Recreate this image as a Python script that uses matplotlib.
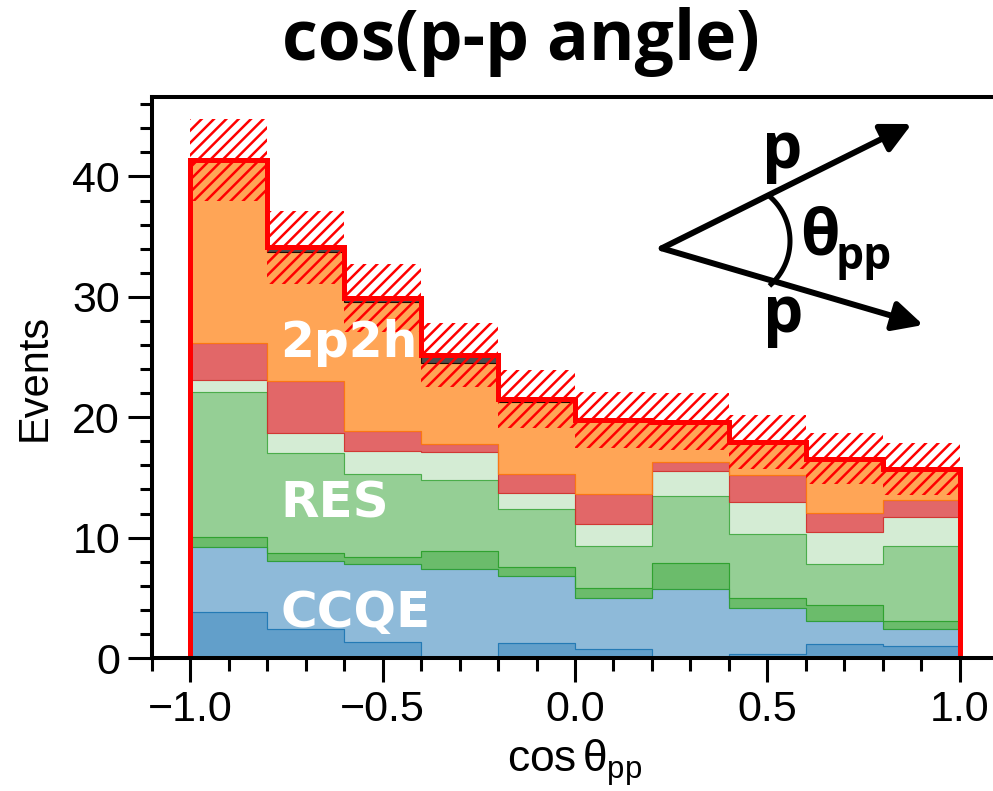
import numpy as np
import matplotlib
matplotlib.use("Agg")
import matplotlib.pyplot as plt
from matplotlib.ticker import MultipleLocator

DPI = 74
K = 100.0 / DPI  # point sizes below are chosen for a 100-dpi layout

plt.rcParams["font.family"] = ["Liberation Sans", "DejaVu Sans"]
plt.rcParams["mathtext.fontset"] = "custom"
plt.rcParams["mathtext.rm"] = "Liberation Sans"
plt.rcParams["mathtext.it"] = "Liberation Sans"
plt.rcParams["hatch.linewidth"] = 1.8 * K

# Binning in cos(theta_pp)
bin_edges = np.linspace(-1.0, 1.0, 11)

# Stacked components, bottom to top (events per bin)
ccqe_low = [3.85, 2.44, 1.33, 0.10, 1.27, 0.75, 0.00, 0.33, 1.14, 1.00]
ccqe = [5.40, 5.62, 6.45, 7.32, 5.54, 4.21, 5.76, 3.85, 1.93, 1.44]
res_low = [0.80, 0.63, 0.58, 1.47, 0.75, 0.85, 2.13, 0.78, 1.30, 0.63]
res = [12.02, 8.31, 6.89, 5.89, 4.82, 3.46, 5.56, 5.34, 3.44, 6.23]
res_high = [1.03, 1.72, 1.94, 2.30, 1.35, 1.89, 2.11, 2.68, 2.68, 2.44]
dis = [3.03, 4.28, 1.66, 0.69, 1.55, 2.49, 0.69, 2.22, 1.53, 1.36]
mec_2p2h = [15.27, 10.75, 10.75, 6.70, 6.01, 6.12, 3.38, 2.77, 4.54, 2.63]
other = [0.00, 0.35, 0.27, 0.70, 0.22, 0.00, 0.00, 0.00, 0.00, 0.00]

# Uncertainty on the total prediction
total_err = [3.40, 3.05, 2.83, 2.63, 2.40, 2.34, 2.35, 2.24, 2.12, 2.15]

components = [ccqe_low, ccqe, res_low, res, res_high, dis, mec_2p2h, other]
base_colors = ["tab:blue", "tab:blue", "tab:green", "tab:green", "tab:green",
               "tab:red", "tab:orange", "black"]
alphas = [0.7, 0.5, 0.7, 0.5, 0.2, 0.7, 0.7, 0.7]

W, H = 994, 791
fig = plt.figure(figsize=(W / DPI, H / DPI), dpi=DPI)
ax_left, ax_right, ax_top, ax_bottom = 152, 998, 97, 658
ax = fig.add_axes([ax_left / W, 1 - ax_bottom / H,
                   (ax_right - ax_left) / W, (ax_bottom - ax_top) / H])

bottom = np.zeros(len(bin_edges) - 1)
for vals, c, a in zip(components, base_colors, alphas):
    top = bottom + np.asarray(vals)
    ax.stairs(top, bin_edges, baseline=bottom, fill=True,
              facecolor=matplotlib.colors.to_rgba(c, a),
              edgecolor=matplotlib.colors.to_rgba(c, min(1.0, a + 0.15)),
              linewidth=0.8 * K)
    bottom = top
total = bottom
err = np.asarray(total_err)

# Hatched uncertainty band
for i in range(len(total)):
    ax.fill_between(bin_edges[i:i + 2], total[i] - err[i], total[i] + err[i],
                    facecolor="none", edgecolor="red", hatch="//",
                    linewidth=0)

# Total prediction outline
ax.stairs(total, bin_edges, baseline=0, color="red", linewidth=3.6 * K)

# Inline component labels
lab_kw = dict(color="white", fontweight="bold",
              family=["DejaVu Sans"], ha="left", va="baseline")
ax.text(-0.768, 25.0, "2p2h", fontsize=35 * K, **lab_kw)
ax.text(-0.765, 11.7, "RES", fontsize=36 * K, **lab_kw)
ax.text(-0.765, 2.6, "CCQE", fontsize=36 * K, **lab_kw)

ax.set_xlim(-1.1, 1.1)
ax.set_ylim(0, 46.6)
ax.xaxis.set_major_locator(MultipleLocator(0.5))
ax.xaxis.set_minor_locator(MultipleLocator(0.1))
ax.yaxis.set_major_locator(MultipleLocator(10))
ax.yaxis.set_minor_locator(MultipleLocator(2))
ax.tick_params(which="major", direction="out", length=17 * K, width=2.2 * K,
               labelsize=31 * K, pad=6 * K)
ax.tick_params(which="minor", direction="out", length=9 * K, width=2.2 * K)
for s in ax.spines.values():
    s.set_linewidth(2.9 * K)

ax.set_xlabel(r"$\mathrm{cos}\,\theta_{\mathrm{pp}}$", fontsize=32 * K,
              labelpad=5 * K)
ax.set_ylabel("Events", fontsize=30 * K, labelpad=13 * K)

fig.text(521 / W, 1 - 42 / H, "cos(p-p angle)", ha="center", va="center",
         fontsize=50 * K, fontweight="bold", family=["Open Sans", "DejaVu Sans"])

# Opening-angle sketch (figure pixel coordinates, origin bottom-left)
def fp(x, y):
    return (x, H - y)

vertex = fp(661.7, 248.3)
for tip in (fp(911.7, 124), fp(923.3, 325)):
    fig.add_artist(matplotlib.patches.FancyArrowPatch(
        posA=vertex, posB=tip, transform=None,
        arrowstyle="-|>,head_length=0.6,head_width=0.3",
        mutation_scale=30 * K, color="black", linewidth=4.3 * K,
        shrinkA=0, shrinkB=0))

arc_t = np.radians(np.linspace(-47, 49, 60))
cx, cy = fp(731, 241)
fig.add_artist(matplotlib.lines.Line2D(cx + 59 * np.cos(arc_t),
                                       cy + 59 * np.sin(arc_t),
                                       transform=None, color="black",
                                       linewidth=3.6 * K))

sk_kw = dict(fontweight="bold", family=["Open Sans", "DejaVu Sans"],
             ha="center", va="center", transform=None)
fig.text(*fp(782, 152), "p", fontsize=46 * K, **sk_kw)
fig.text(*fp(783, 315), "p", fontsize=46 * K, **sk_kw)
fig.text(*fp(820, 238), "θ", fontsize=46 * K, **sk_kw)
fig.text(*fp(864, 258), "pp", fontsize=32 * K, **sk_kw)

fig.savefig("out.png", dpi=DPI)
